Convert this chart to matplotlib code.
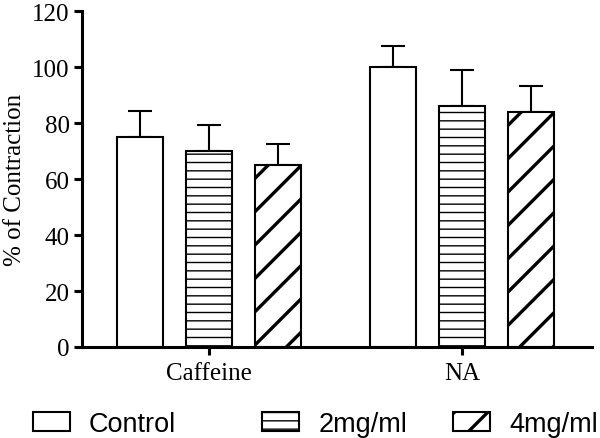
import numpy as np
import matplotlib
matplotlib.use("Agg")
import matplotlib.pyplot as plt
from matplotlib.patches import Patch

# data
groups = ["Caffeine", "NA"]
series = ["Control", "2mg/ml", "4mg/ml"]
means = {
    "Control": [75, 100],
    "2mg/ml": [70, 86],
    "4mg/ml": [65, 84],
}
sem = {
    "Control": [9.5, 7.7],
    "2mg/ml": [9.2, 13.0],
    "4mg/ml": [7.5, 9.4],
}
hatches = {"Control": "", "2mg/ml": "--", "4mg/ml": "/"}
hatch_lw = {"Control": 1.0, "2mg/ml": 1.0, "4mg/ml": 2.4}

serif = ["Liberation Serif", "DejaVu Serif"]
sans = ["Liberation Sans", "DejaVu Sans"]

fig = plt.figure(figsize=(6.0, 4.39), dpi=100)
ax = fig.add_axes([82 / 600, 91 / 439, 510 / 600, 335.7 / 439])

centers = np.array([0.0, 3.667])
width = 0.667
for i, s in enumerate(series):
    plt.rcParams["hatch.linewidth"] = hatch_lw[s]
    x = centers + (i - 1)
    ax.bar(x, means[s], width, color="white", edgecolor="black",
           linewidth=1.5, hatch=hatches[s], zorder=2)
    ax.errorbar(x, means[s], yerr=[np.zeros(len(groups)), sem[s]],
                fmt="none", ecolor="black", elinewidth=1.5,
                capsize=8.4, capthick=1.5, zorder=1)

ax.set_xlim(-1.84, 5.55)
ax.set_ylim(0, 120)
ax.set_yticks(range(0, 121, 20))
ax.set_xticks(centers)
ax.set_xticklabels(groups, fontfamily=serif, fontsize=18)
for lab in ax.get_yticklabels():
    lab.set_fontfamily(serif)
    lab.set_fontsize(18)

for side in ["top", "right"]:
    ax.spines[side].set_visible(False)
for side in ["left", "bottom"]:
    ax.spines[side].set_linewidth(2.2)
ax.tick_params(axis="both", direction="out", length=6, width=2.2, pad=3)
ax.tick_params(axis="x", pad=5)

ax.set_ylabel("% of Contraction", fontfamily=serif, fontsize=18)
ax.yaxis.set_label_coords(-0.11, 0.5)

# legend, one entry per block like the original
leg_x = [0.055, 0.437, 0.755]
for s, lx in zip(series, leg_x):
    plt.rcParams["hatch.linewidth"] = hatch_lw[s]
    h = Patch(facecolor="white", edgecolor="black", linewidth=1.5,
              hatch=hatches[s])
    fig.legend([h], [s], loc="center left", bbox_to_anchor=(lx, 0.032),
               frameon=False, prop={"family": sans, "size": 19.5},
               handlelength=1.37, handleheight=0.7, handletextpad=0.7,
               borderaxespad=0, borderpad=0)

fig.savefig("out.png", dpi=100)
